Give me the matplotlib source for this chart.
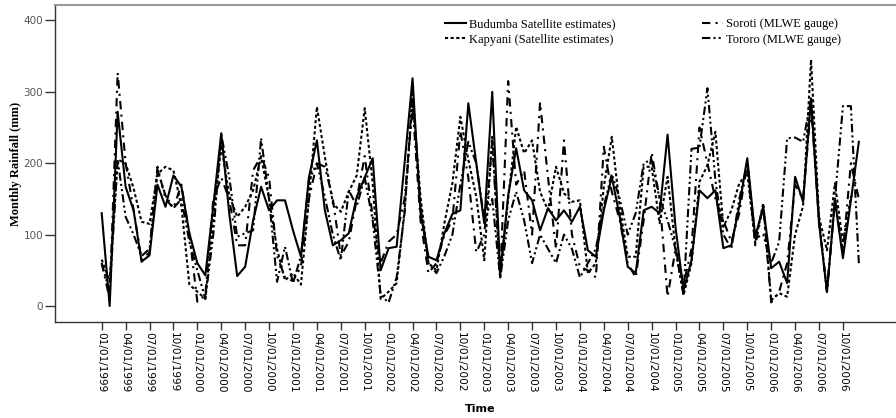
import matplotlib
matplotlib.use('Agg')
import matplotlib.pyplot as plt
import numpy as np
import pandas as pd

# monthly rainfall (mm), Jan 1999 - Dec 2006
months = pd.date_range('1999-01-01', periods=96, freq='MS')

budumba = [130, 0, 272, 167, 134, 62, 71, 170, 139, 183, 167, 102,
           60, 43, 140, 242, 130, 42, 55, 120, 167, 134, 148, 148,
           106, 69, 180, 232, 134, 85, 92, 102, 153, 180, 207, 50,
           81, 83, 200, 319, 130, 69, 64, 102, 129, 134, 284, 200,
           116, 300, 46, 155, 221, 162, 148, 106, 137, 120, 134, 118,
           139, 78, 69, 134, 181, 125, 55, 46, 134, 139, 130, 240,
           110, 22, 64, 162, 151, 162, 81, 85, 140, 207, 97, 139,
           53, 62, 32, 181, 146, 291, 116, 20, 148, 67, 148, 230]

kapyani = [65, 35, 205, 200, 165, 118, 115, 185, 195, 190, 140, 30,
           20, 10, 120, 225, 155, 125, 139, 162, 209, 150, 80, 36,
           46, 30, 150, 279, 209, 144, 132, 160, 183, 277, 172, 10,
           20, 32, 134, 290, 153, 60, 50, 116, 172, 265, 205, 153,
           64, 237, 41, 150, 251, 214, 232, 160, 134, 195, 158, 146,
           148, 46, 60, 167, 237, 139, 69, 69, 195, 195, 116, 181,
           80, 15, 60, 174, 197, 244, 111, 134, 172, 186, 88, 144,
           8, 18, 13, 100, 140, 345, 125, 78, 172, 88, 153, 162]

soroti = [60, 10, 327, 200, 135, 65, 75, 195, 150, 137, 170, 100,
          6, 15, 150, 180, 150, 85, 85, 190, 210, 180, 70, 40,
          35, 55, 150, 200, 195, 150, 70, 90, 150, 210, 125, 60,
          90, 100, 150, 280, 120, 46, 60, 100, 120, 245, 180, 75,
          100, 230, 40, 315, 170, 190, 100, 285, 180, 80, 232, 100,
          55, 50, 40, 223, 160, 120, 60, 40, 120, 215, 150, 13,
          80, 30, 80, 250, 200, 150, 120, 90, 130, 200, 85, 140,
          5, 20, 60, 170, 150, 280, 120, 20, 150, 75, 200, 150]

tororo = [60, 20, 205, 125, 100, 70, 80, 190, 155, 137, 150, 90,
          50, 10, 100, 240, 181, 97, 102, 106, 235, 150, 34, 83,
          32, 70, 176, 200, 153, 100, 64, 162, 140, 180, 120, 15,
          5, 40, 130, 300, 140, 60, 46, 70, 100, 170, 230, 200,
          120, 150, 39, 120, 160, 120, 60, 100, 80, 60, 100, 80,
          40, 60, 80, 140, 185, 150, 100, 130, 200, 205, 150, 120,
          80, 15, 220, 222, 305, 176, 100, 80, 150, 200, 95, 100,
          60, 90, 235, 236, 230, 290, 120, 20, 150, 280, 280, 60]

series_labels = ['Budumba Satellite estimates)', 'Kapyani (Satellite estimates)',
                 'Soroti (MLWE gauge)', 'Tororo (MLWE gauge)']
y_ticks = [0, 100, 200, 300, 400]

fig = plt.figure(figsize=(8.96, 4.18), dpi=100)
ax = fig.add_axes([55 / 896, 1 - 322 / 418, 841 / 896, 317 / 418])

x = np.arange(len(months))
ax.plot(x, budumba, color='black', lw=1.5, ls='-', label=series_labels[0])
ax.plot(x, kapyani, color='black', lw=1.5, ls=(0, (1.5, 1.2)), label=series_labels[1])
ax.plot(x, soroti, color='black', lw=1.5, ls=(0, (4, 2.5, 1, 2.5)), label=series_labels[2])
ax.plot(x, tororo, color='black', lw=1.5, ls=(0, (4, 1.5, 1, 1.5, 1, 1.5)), label=series_labels[3])

ax.set_xlim(-5.86, 99.66)
ax.set_ylim(-22.4, 421.6)

tick_idx = x[::3]
ax.set_xticks(tick_idx)
ax.set_xticklabels([months[i].strftime('%m/%d/%Y') for i in tick_idx],
                   rotation=270, fontsize=7.6, family='DejaVu Sans', color='black')
ax.set_yticks(y_ticks)
ax.set_yticklabels([str(v) for v in y_ticks], fontsize=7.5, family='DejaVu Sans', color='#555555')
ax.tick_params(axis='x', direction='out', length=6, width=1, color='#333333', pad=1)
ax.tick_params(axis='y', direction='out', length=7.5, width=1, color='#333333', pad=1)

for side in ['left', 'bottom']:
    ax.spines[side].set_color('#333333')
    ax.spines[side].set_linewidth(1)
ax.spines['top'].set_color('#999999')
ax.spines['top'].set_linewidth(1.5)
ax.spines['right'].set_visible(False)

ax.set_ylabel('Monthly Rainfall (mm)', family='Liberation Serif', fontweight='bold', fontsize=9)
ax.yaxis.set_label_coords(-33 / 841, 0.5)
fig.text(480 / 896, 1 - 409 / 418, 'Time', ha='center', va='center',
         fontsize=8, fontweight='bold', family='DejaVu Sans')

ax.legend(ncol=2, frameon=False, loc='upper left', bbox_to_anchor=(445 / 896, 1 - 18 / 418),
          bbox_transform=fig.transFigure, borderpad=0, borderaxespad=0,
          prop={'family': 'Liberation Serif', 'size': 9},
          handlelength=1.7, handletextpad=0.25, columnspacing=6.9, labelspacing=0.3)

fig.savefig('out.png', dpi=100)
